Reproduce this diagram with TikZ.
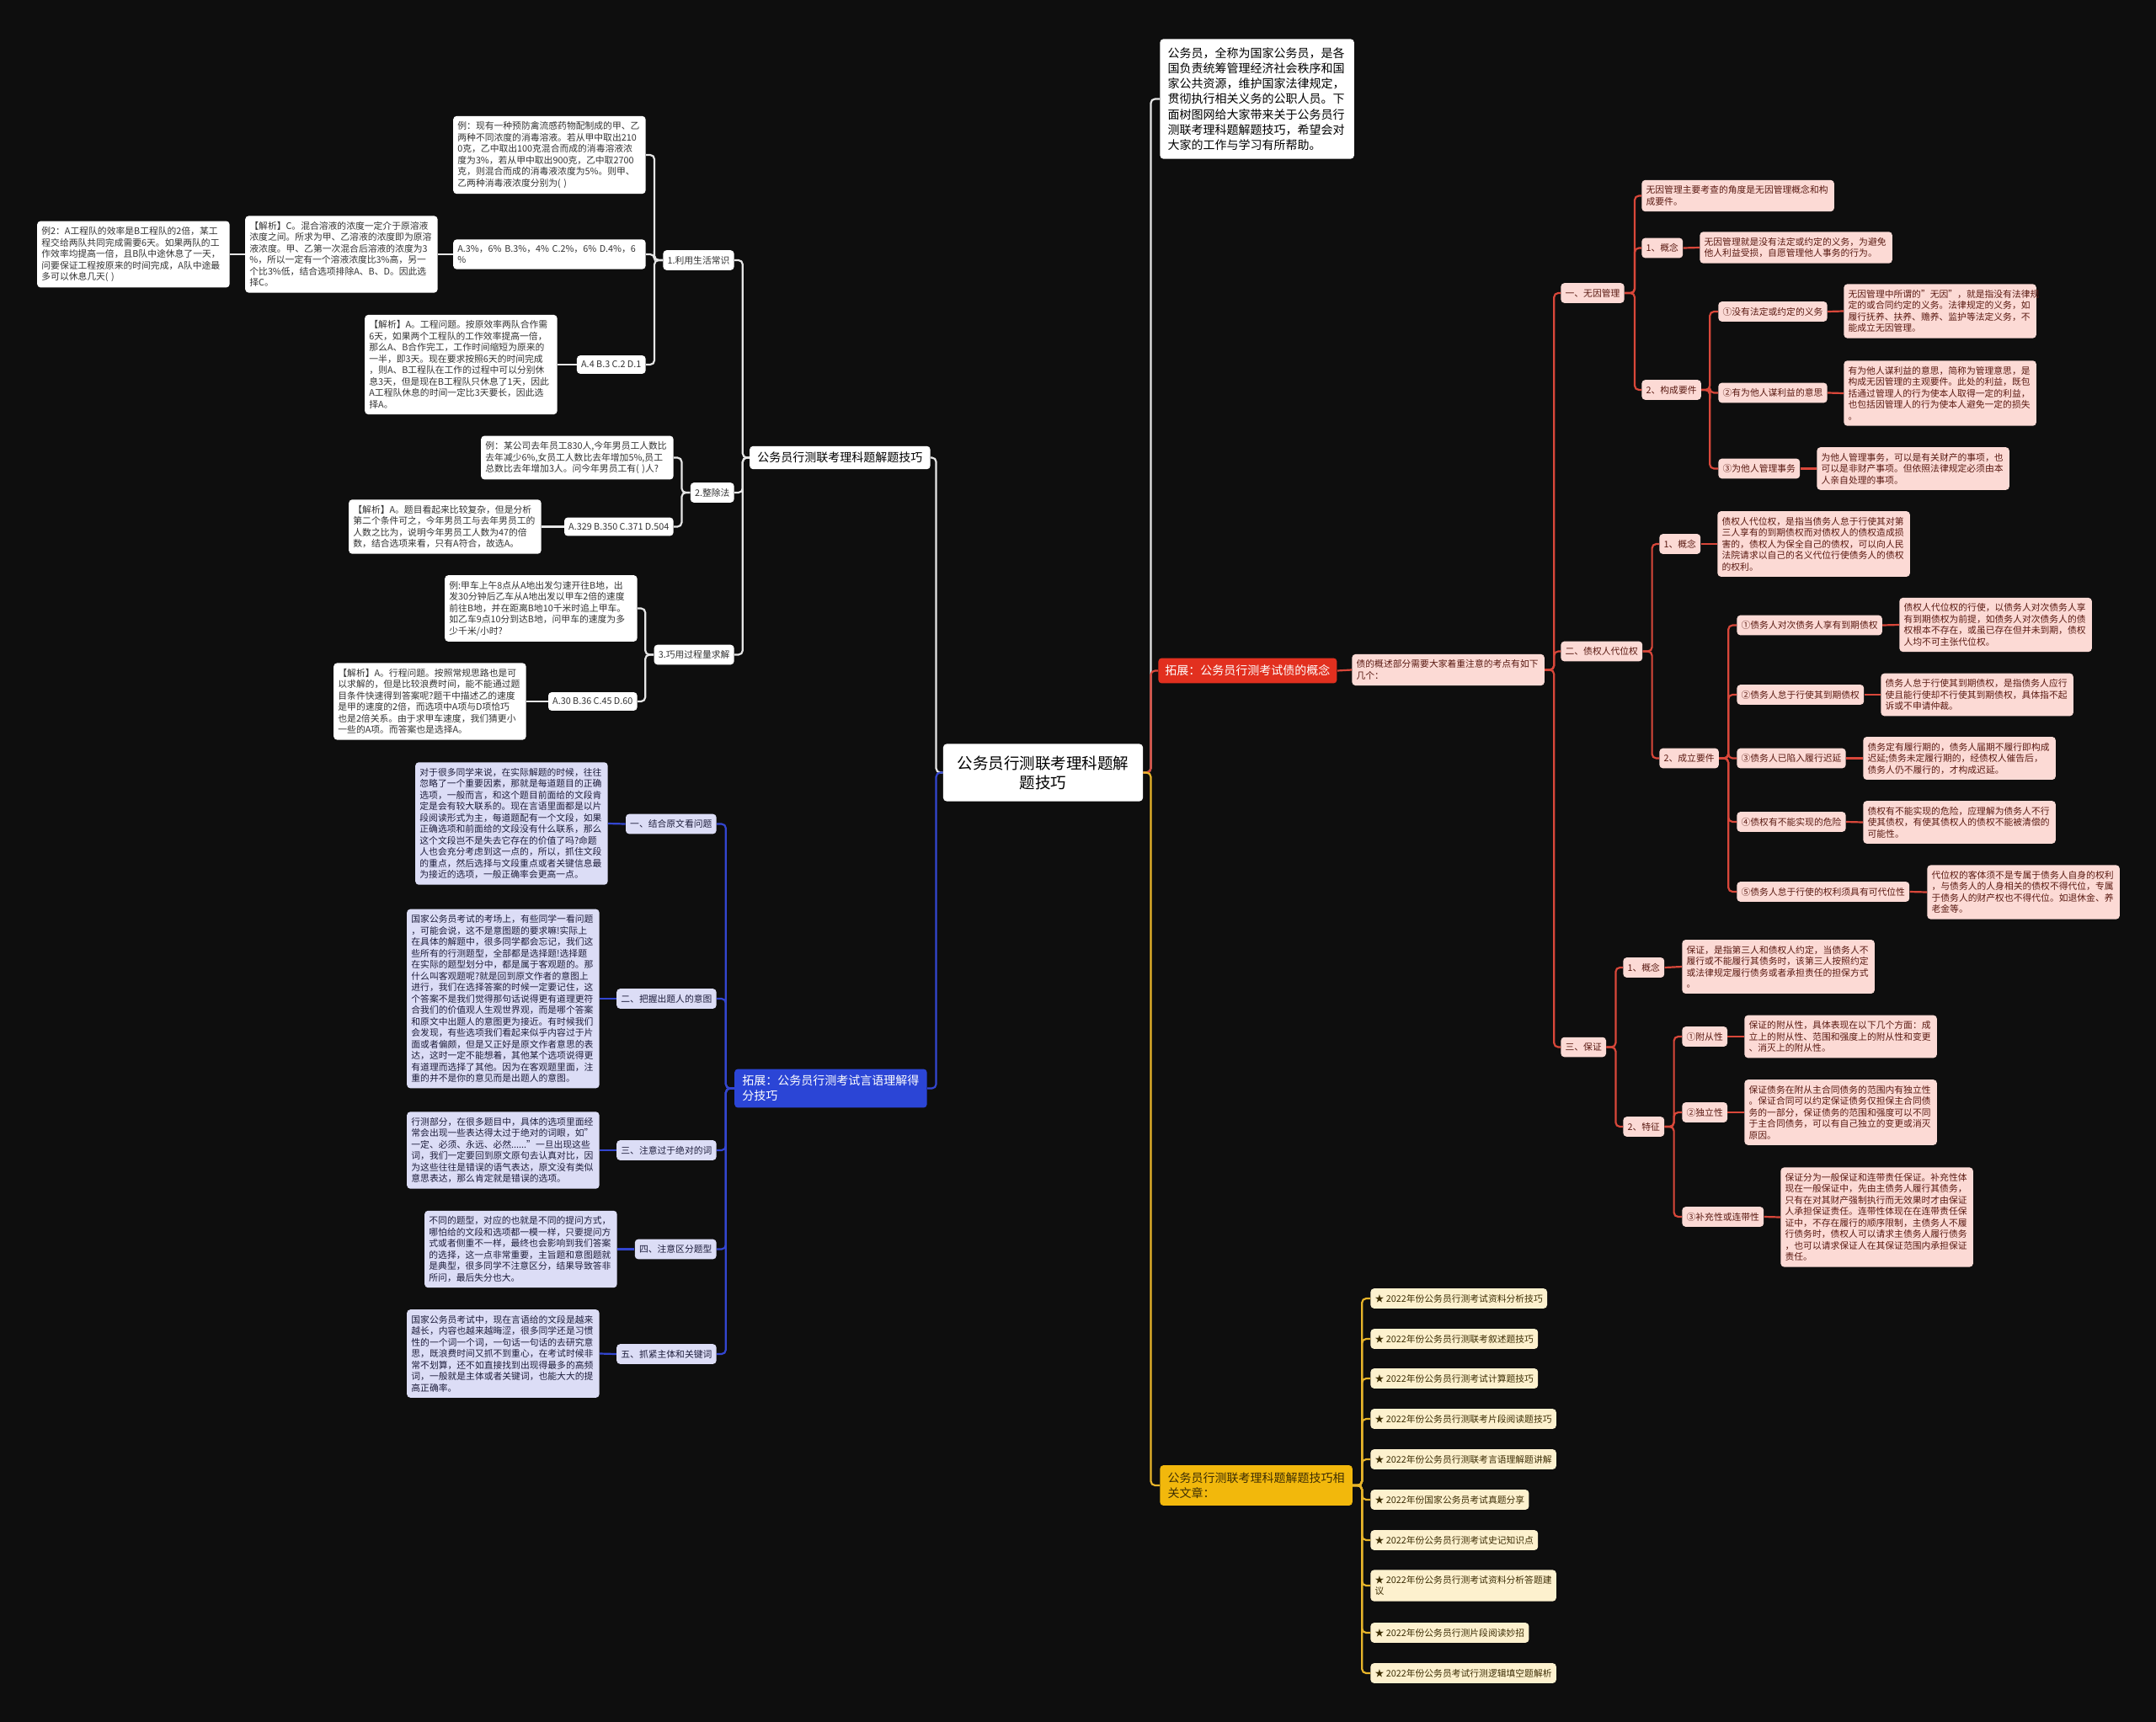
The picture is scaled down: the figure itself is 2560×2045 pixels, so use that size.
\documentclass[tikz,border=0pt]{standalone}
\usepackage{fontspec}
\setmainfont{Noto Sans CJK SC}
\usetikzlibrary{calc}
\definecolor{canvas}{HTML}{0E0E0E}
\definecolor{wline}{HTML}{E6E6E6}
\definecolor{bline}{HTML}{3346D0}
\definecolor{rline}{HTML}{D9473A}
\definecolor{yline}{HTML}{E8B52A}
\definecolor{wtext}{HTML}{333333}
\definecolor{lavfill}{HTML}{DCDDF6}
\definecolor{lavtext}{HTML}{1E1E3C}
\definecolor{pinkfill}{HTML}{FCDAD5}
\definecolor{pinktext}{HTML}{5A1A12}
\definecolor{creamfill}{HTML}{FDF1CE}
\definecolor{creamtext}{HTML}{3D2E05}
\definecolor{blueN}{HTML}{2B45D6}
\definecolor{redN}{HTML}{E2301F}
\definecolor{yelN}{HTML}{F2B80C}
\newcommand\leaffont{\fontsize{5.4}{6.75}\selectfont}
\newcommand\headfont{\fontsize{7}{9.1}\selectfont}
\newcommand\rootfont{\fontsize{9.25}{11.5}\selectfont}
\tikzset{
  leaf/.style={rounded corners=2pt,inner xsep=2.6pt,inner ysep=3.4pt,font=\leaffont,align=left},
  wleaf/.style={leaf,fill=white,text=wtext},
  lleaf/.style={leaf,fill=lavfill,text=lavtext},
  pleaf/.style={leaf,fill=pinkfill,text=pinktext},
  yleaf/.style={leaf,fill=creamfill,text=creamtext},
  widebox/.style={text width=109pt},
  head/.style={rounded corners=2pt,inner xsep=4.6pt,inner ysep=3.6pt,font=\headfont,align=left},
  conn/.style={line width=1.1pt,rounded corners=2.5pt},
  wconn/.style={conn,draw=wline},
  bconn/.style={conn,draw=bline},
  rconn/.style={conn,draw=rline},
  yconn/.style={conn,draw=yline}
}
\begin{document}
\begin{tikzpicture}[x=.5pt,y=-.5pt]
\fill[canvas] (0,0) rectangle (2560,2045);
\useasboundingbox (0,0) rectangle (2560,2045);

% root
\node[rounded corners=2pt,fill=white,text=black,font=\rootfont,align=center,inner xsep=8.4pt,inner ysep=7pt] (root) at (1238.5,917.5) {公务员行测联考理科题解\\题技巧};

% left: 理科题解题技巧
\node[head,fill=white,text=black,anchor=east] (mainL) at (1105,543.5) {公务员行测联考理科题解题技巧};
\node[wleaf,anchor=east] (lab1) at (872,309) {1.利用生活常识};
\node[wleaf,anchor=east] (lab2) at (872,585) {2.整除法};
\node[wleaf,anchor=east] (lab3) at (872,777.5) {3.巧用过程量求解};
\node[wleaf,widebox,anchor=east] (exA) at (767,184) {例：现有一种预防禽流感药物配制成的甲、乙\\两种不同浓度的消毒溶液。若从甲中取出210\\0克，乙中取出100克混合而成的消毒溶液浓\\度为3\%，若从甲中取出900克，乙中取2700\\克，则混合而成的消毒液浓度为5\%。则甲、\\乙两种消毒液浓度分别为( )};
\node[wleaf,widebox,anchor=east] (optA) at (767,302) {A.3\%，6\% B.3\%，4\% C.2\%，6\% D.4\%，6\\\%};
\node[wleaf,anchor=east] (optB) at (767,433) {A.4 B.3 C.2 D.1};
\node[wleaf,widebox,anchor=east] (jxC) at (520,302) {【解析】C。混合溶液的浓度一定介于原溶液\\浓度之间。所求为甲、乙溶液的浓度即为原溶\\液浓度。甲、乙第一次混合后溶液的浓度为3\\\%，所以一定有一个溶液浓度比3\%高，另一\\个比3\%低，结合选项排除A、B、D。因此选\\择C。};
\node[wleaf,widebox,anchor=east] (ex2) at (273,302) {例2：A工程队的效率是B工程队的2倍，某工\\程交给两队共同完成需要6天。如果两队的工\\作效率均提高一倍，且B队中途休息了一天，\\问要保证工程按原来的时间完成，A队中途最\\多可以休息几天( )};
\node[wleaf,widebox,anchor=east] (jxA1) at (662,433) {【解析】A。工程问题。按原效率两队合作需\\6天，如果两个工程队的工作效率提高一倍，\\那么A、B合作完工，工作时间缩短为原来的\\一半，即3天。现在要求按照6天的时间完成\\，则A、B工程队在工作的过程中可以分别休\\息3天，但是现在B工程队只休息了1天，因此\\A工程队休息的时间一定比3天要长，因此选\\择A。};
\node[wleaf,widebox,anchor=east] (exB) at (800,543.5) {例：某公司去年员工830人,今年男员工人数比\\去年减少6\%,女员工人数比去年增加5\%,员工\\总数比去年增加3人。问今年男员工有( )人?};
\node[wleaf,anchor=east] (optC) at (800,625.5) {A.329 B.350 C.371 D.504};
\node[wleaf,widebox,anchor=east] (jxA2) at (643,625.5) {【解析】A。题目看起来比较复杂，但是分析\\第二个条件可之，今年男员工与去年男员工的\\人数之比为，说明今年男员工人数为47的倍\\数，结合选项来看，只有A符合，故选A。};
\node[wleaf,widebox,anchor=east] (exC) at (757,722.5) {例:甲车上午8点从A地出发匀速开往B地，出\\发30分钟后乙车从A地出发以甲车2倍的速度\\前往B地，并在距离B地10千米时追上甲车。\\如乙车9点10分到达B地，问甲车的速度为多\\少千米/小时?};
\node[wleaf,anchor=east] (optD) at (757,833) {A.30 B.36 C.45 D.60};
\node[wleaf,widebox,anchor=east] (jxA3) at (625,833) {【解析】A。行程问题。按照常规思路也是可\\以求解的，但是比较浪费时间，能不能通过题\\目条件快速得到答案呢?题干中描述乙的速度\\是甲的速度的2倍，而选项中A项与D项恰巧\\也是2倍关系。由于求甲车速度，我们猜更小\\一些的A项。而答案也是选择A。};

% left: 言语理解得分技巧
\node[head,fill=blueN,text=white,text width=105pt,inner ysep=3.7pt,anchor=east] (blueN) at (1101,1292.5) {拓展：公务员行测考试言语理解得\\分技巧};
\node[lleaf,anchor=east] (b1) at (851,978.5) {一、结合原文看问题};
\node[lleaf,anchor=east] (b2) at (851,1186) {二、把握出题人的意图};
\node[lleaf,anchor=east] (b3) at (851,1366) {三、注意过于绝对的词};
\node[lleaf,anchor=east] (b4) at (851,1483.5) {四、注意区分题型};
\node[lleaf,anchor=east] (b5) at (851,1608) {五、抓紧主体和关键词};
\node[lleaf,widebox,anchor=east] (b1-t) at (722,978) {对于很多同学来说，在实际解题的时候，往往\\忽略了一个重要因素，那就是每道题目的正确\\选项，一般而言，和这个题目前面给的文段肯\\定是会有较大联系的。现在言语里面都是以片\\段阅读形式为主，每道题配有一个文段，如果\\正确选项和前面给的文段没有什么联系，那么\\这个文段岂不是失去它存在的价值了吗?命题\\人也会充分考虑到这一点的，所以，抓住文段\\的重点，然后选择与文段重点或者关键信息最\\为接近的选项，一般正确率会更高一点。};
\node[lleaf,widebox,anchor=east] (b2-t) at (712,1186) {国家公务员考试的考场上，有些同学一看问题\\，可能会说，这不是意图题的要求嘛!实际上\\在具体的解题中，很多同学都会忘记，我们这\\些所有的行测题型，全部都是选择题!选择题\\在实际的题型划分中，都是属于客观题的。那\\什么叫客观题呢?就是回到原文作者的意图上\\进行，我们在选择答案的时候一定要记住，这\\个答案不是我们觉得那句话说得更有道理更符\\合我们的价值观人生观世界观，而是哪个答案\\和原文中出题人的意图更为接近。有时候我们\\会发现，有些选项我们看起来似乎内容过于片\\面或者偏颇，但是又正好是原文作者意思的表\\达，这时一定不能想着，其他某个选项说得更\\有道理而选择了其他。因为在客观题里面，注\\重的并不是你的意见而是出题人的意图。};
\node[lleaf,widebox,anchor=east] (b3-t) at (712,1366) {行测部分，在很多题目中，具体的选项里面经\\常会出现一些表达得太过于绝对的词眼，如"\\一定、必须、永远、必然......"一旦出现这些\\词，我们一定要回到原文原句去认真对比，因\\为这些往往是错误的语气表达，原文没有类似\\意思表达，那么肯定就是错误的选项。};
\node[lleaf,widebox,anchor=east] (b4-t) at (733,1483.5) {不同的题型，对应的也就是不同的提问方式，\\哪怕给的文段和选项都一模一样，只要提问方\\式或者侧重不一样，最终也会影响到我们答案\\的选择，这一点非常重要，主旨题和意图题就\\是典型，很多同学不注意区分，结果导致答非\\所问，最后失分也大。};
\node[lleaf,widebox,anchor=east] (b5-t) at (712,1607.5) {国家公务员考试中，现在言语给的文段是越来\\越长，内容也越来越晦涩，很多同学还是习惯\\性的一个词一个词，一句话一句话的去研究意\\思，既浪费时间又抓不到重心，在考试时候非\\常不划算，还不如直接找到出现得最多的高频\\词，一般就是主体或者关键词，也能大大的提\\高正确率。};

% right: intro, 债的概念, related articles
\node[head,fill=white,text=black,text width=106pt,inner ysep=5pt,anchor=west] (intro) at (1377,117.5) {公务员，全称为国家公务员，是各\\国负责统筹管理经济社会秩序和国\\家公共资源，维护国家法律规定，\\贯彻执行相关义务的公职人员。下\\面树图网给大家带来关于公务员行\\测联考理科题解题技巧，希望会对\\大家的工作与学习有所帮助。};
\node[head,fill=redN,text=white,inner xsep=4pt,inner ysep=4.2pt,anchor=west] (redN) at (1375,796.5) {拓展：公务员行测考试债的概念};
\node[pleaf,widebox,anchor=west] (debt) at (1605,795.5) {债的概述部分需要大家着重注意的考点有如下\\几个：};
\node[head,fill=yelN,text=creamtext,text width=105pt,inner ysep=4.2pt,anchor=west] (yelN) at (1377,1764) {公务员行测联考理科题解题技巧相\\关文章：};
\foreach \i/\yy/\txt in {1/1542/{★ 2022年份公务员行测考试资料分析技巧},2/1590/{★ 2022年份公务员行测联考叙述题技巧},3/1637/{★ 2022年份公务员行测考试计算题技巧},4/1685/{★ 2022年份公务员行测联考片段阅读题技巧},5/1733/{★ 2022年份公务员行测联考言语理解题讲解},6/1781/{★ 2022年份国家公务员考试真题分享},7/1829/{★ 2022年份公务员行测考试史记知识点},8/1883/{★ 2022年份公务员行测考试资料分析答题建\\议},9/1939/{★ 2022年份公务员行测片段阅读妙招},10/1987/{★ 2022年份公务员考试行测逻辑填空题解析}}
  \node[yleaf,anchor=west] (art\i) at (1627,\yy) {\txt};

% right: 一、无因管理
\node[pleaf,anchor=west] (r1) at (1853,348) {一、无因管理};
\node[pleaf,widebox,anchor=west] (r1a) at (1949,232.5) {无因管理主要考查的角度是无因管理概念和构\\成要件。};
\node[pleaf,anchor=west] (r1b) at (1949,294.5) {1、概念};
\node[pleaf,widebox,anchor=west] (r1b-t) at (2018,294) {无因管理就是没有法定或约定的义务，为避免\\他人利益受损，自愿管理他人事务的行为。};
\node[pleaf,anchor=west] (r1c) at (1949,463) {2、构成要件};
\node[pleaf,anchor=west] (r1c1) at (2040,370) {①没有法定或约定的义务};
\node[pleaf,anchor=west] (r1c2) at (2040,466.5) {②有为他人谋利益的意思};
\node[pleaf,anchor=west] (r1c3) at (2040,556.5) {③为他人管理事务};
\node[pleaf,widebox,anchor=west] (r1c1-t) at (2189,369.5) {无因管理中所谓的"无因"，就是指没有法律规\\定的或合同约定的义务。法律规定的义务，如\\履行抚养、扶养、赡养、监护等法定义务，不\\能成立无因管理。};
\node[pleaf,widebox,anchor=west] (r1c2-t) at (2189,467) {有为他人谋利益的意思，简称为管理意思，是\\构成无因管理的主观要件。此处的利益，既包\\括通过管理人的行为使本人取得一定的利益，\\也包括因管理人的行为使本人避免一定的损失\\。};
\node[pleaf,widebox,anchor=west] (r1c3-t) at (2157,556.5) {为他人管理事务，可以是有关财产的事项，也\\可以是非财产事项。但依照法律规定必须由本\\人亲自处理的事项。};

% right: 二、债权人代位权
\node[pleaf,anchor=west] (r2) at (1853,773.5) {二、债权人代位权};
\node[pleaf,anchor=west] (r2a) at (1970,646) {1、概念};
\node[pleaf,widebox,anchor=west] (r2a-t) at (2039,646) {债权人代位权，是指当债务人怠于行使其对第\\三人享有的到期债权而对债权人的债权造成损\\害的，债权人为保全自己的债权，可以向人民\\法院请求以自己的名义代位行使债务人的债权\\的权利。};
\node[pleaf,anchor=west] (r2b) at (1970,900.5) {2、成立要件};
\node[pleaf,anchor=west] (r2b1) at (2062,742.5) {①债务人对次债务人享有到期债权};
\node[pleaf,anchor=west] (r2b2) at (2062,825) {②债务人怠于行使其到期债权};
\node[pleaf,anchor=west] (r2b3) at (2062,900.5) {③债务人已陷入履行迟延};
\node[pleaf,anchor=west] (r2b4) at (2062,976) {④债权有不能实现的危险};
\node[pleaf,anchor=west] (r2b5) at (2062,1059) {⑤债务人怠于行使的权利须具有可代位性};
\node[pleaf,widebox,anchor=west] (r2b1-t) at (2255,742) {债权人代位权的行使，以债务人对次债务人享\\有到期债权为前提，如债务人对次债务人的债\\权根本不存在，或虽已存在但并未到期，债权\\人均不可主张代位权。};
\node[pleaf,widebox,anchor=west] (r2b2-t) at (2233,825) {债务人怠于行使其到期债权，是指债务人应行\\使且能行使却不行使其到期债权，具体指不起\\诉或不申请仲裁。};
\node[pleaf,widebox,anchor=west] (r2b3-t) at (2212,900.5) {债务定有履行期的，债务人届期不履行即构成\\迟延;债务未定履行期的，经债权人催告后，\\债务人仍不履行的，才构成迟延。};
\node[pleaf,widebox,anchor=west] (r2b4-t) at (2212,976.5) {债权有不能实现的危险，应理解为债务人不行\\使其债权，有使其债权人的债权不能被清偿的\\可能性。};
\node[pleaf,widebox,anchor=west] (r2b5-t) at (2288,1059.5) {代位权的客体须不是专属于债务人自身的权利\\，与债务人的人身相关的债权不得代位，专属\\于债务人的财产权也不得代位。如退休金、养\\老金等。};

% right: 三、保证
\node[pleaf,anchor=west] (r3) at (1853,1243.5) {三、保证};
\node[pleaf,anchor=west] (r3a) at (1927,1149) {1、概念};
\node[pleaf,widebox,anchor=west] (r3a-t) at (1997,1148) {保证，是指第三人和债权人约定，当债务人不\\履行或不能履行其债务时，该第三人按照约定\\或法律规定履行债务或者承担责任的担保方式\\。};
\node[pleaf,anchor=west] (r3b) at (1927,1338) {2、特征};
\node[pleaf,anchor=west] (r3b1) at (1997,1231) {①附从性};
\node[pleaf,anchor=west] (r3b2) at (1997,1321) {②独立性};
\node[pleaf,anchor=west] (r3b3) at (1997,1445) {③补充性或连带性};
\node[pleaf,widebox,anchor=west] (r3b1-t) at (2071,1231) {保证的附从性，具体表现在以下几个方面：成\\立上的附从性、范围和强度上的附从性和变更\\、消灭上的附从性。};
\node[pleaf,widebox,anchor=west] (r3b2-t) at (2071,1321) {保证债务在附从主合同债务的范围内有独立性\\。保证合同可以约定保证债务仅担保主合同债\\务的一部分，保证债务的范围和强度可以不同\\于主合同债务，可以有自己独立的变更或消灭\\原因。};
\node[pleaf,widebox,anchor=west] (r3b3-t) at (2114,1445.5) {保证分为一般保证和连带责任保证。补充性体\\现在一般保证中，先由主债务人履行其债务，\\只有在对其财产强制执行而无效果时才由保证\\人承担保证责任。连带性体现在在连带责任保\\证中，不存在履行的顺序限制，主债务人不履\\行债务时，债权人可以请求主债务人履行债务\\，也可以请求保证人在其保证范围内承担保证\\责任。};

% connectors, left side
\draw[wconn] (root.west) -- ++(-8,0) |- (mainL.east);
\draw[bconn] (root.west) -- ++(-8,0) |- (blueN.east);
\foreach \c in {lab1,lab2,lab3} \draw[wconn] (mainL.west) -- ++(-8,0) |- (\c.east);
\foreach \c in {exA,optA,optB} \draw[wconn] (lab1.west) -- ++(-10,0) |- (\c.east);
\foreach \c in {exB,optC} \draw[wconn] (lab2.west) -- ++(-10,0) |- (\c.east);
\foreach \c in {exC,optD} \draw[wconn] (lab3.west) -- ++(-10,0) |- (\c.east);
\foreach \a/\b in {optA/jxC,jxC/ex2,optB/jxA1,optC/jxA2,optD/jxA3} \draw[wconn] (\a.west) -- (\b.east);
\foreach \c in {b1,b2,b3,b4,b5} {
  \draw[bconn] (blueN.west) -- ++(-10,0) |- (\c.east);
  \draw[bconn] (\c.west) -- (\c-t.east);
}

% connectors, right side
\draw[wconn] (root.east) -- ++(9,0) |- (intro.west);
\draw[rconn] (root.east) -- ++(9,0) |- (redN.west);
\draw[yconn] (root.east) -- ++(9,0) |- (yelN.west);
\foreach \i in {1,...,10} \draw[yconn] (yelN.east) -- ++(11,0) |- (art\i.west);
\draw[rconn] (redN.east) -- (debt.west);
\foreach \c in {r1,r2,r3} \draw[rconn] (debt.east) -- ++(11,0) |- (\c.west);
\foreach \c in {r1a,r1b,r1c} \draw[rconn] (r1.east) -- ++(12,0) |- (\c.west);
\foreach \c in {r2a,r2b} \draw[rconn] (r2.east) -- ++(11,0) |- (\c.west);
\foreach \c in {r3a,r3b} \draw[rconn] (r3.east) -- ++(11,0) |- (\c.west);
\foreach \c in {r1c1,r1c2,r1c3} \draw[rconn] (r1c.east) -- ++(10,0) |- (\c.west);
\foreach \c in {r2b1,r2b2,r2b3,r2b4,r2b5} \draw[rconn] (r2b.east) -- ++(11,0) |- (\c.west);
\foreach \c in {r3b1,r3b2,r3b3} \draw[rconn] (r3b.east) -- ++(11,0) |- (\c.west);
\foreach \c in {r1b,r1c1,r1c2,r1c3,r2a,r2b1,r2b2,r2b3,r2b4,r2b5,r3a,r3b1,r3b2,r3b3} \draw[rconn] (\c.east) -- (\c-t.west);
\end{tikzpicture}
\end{document}
